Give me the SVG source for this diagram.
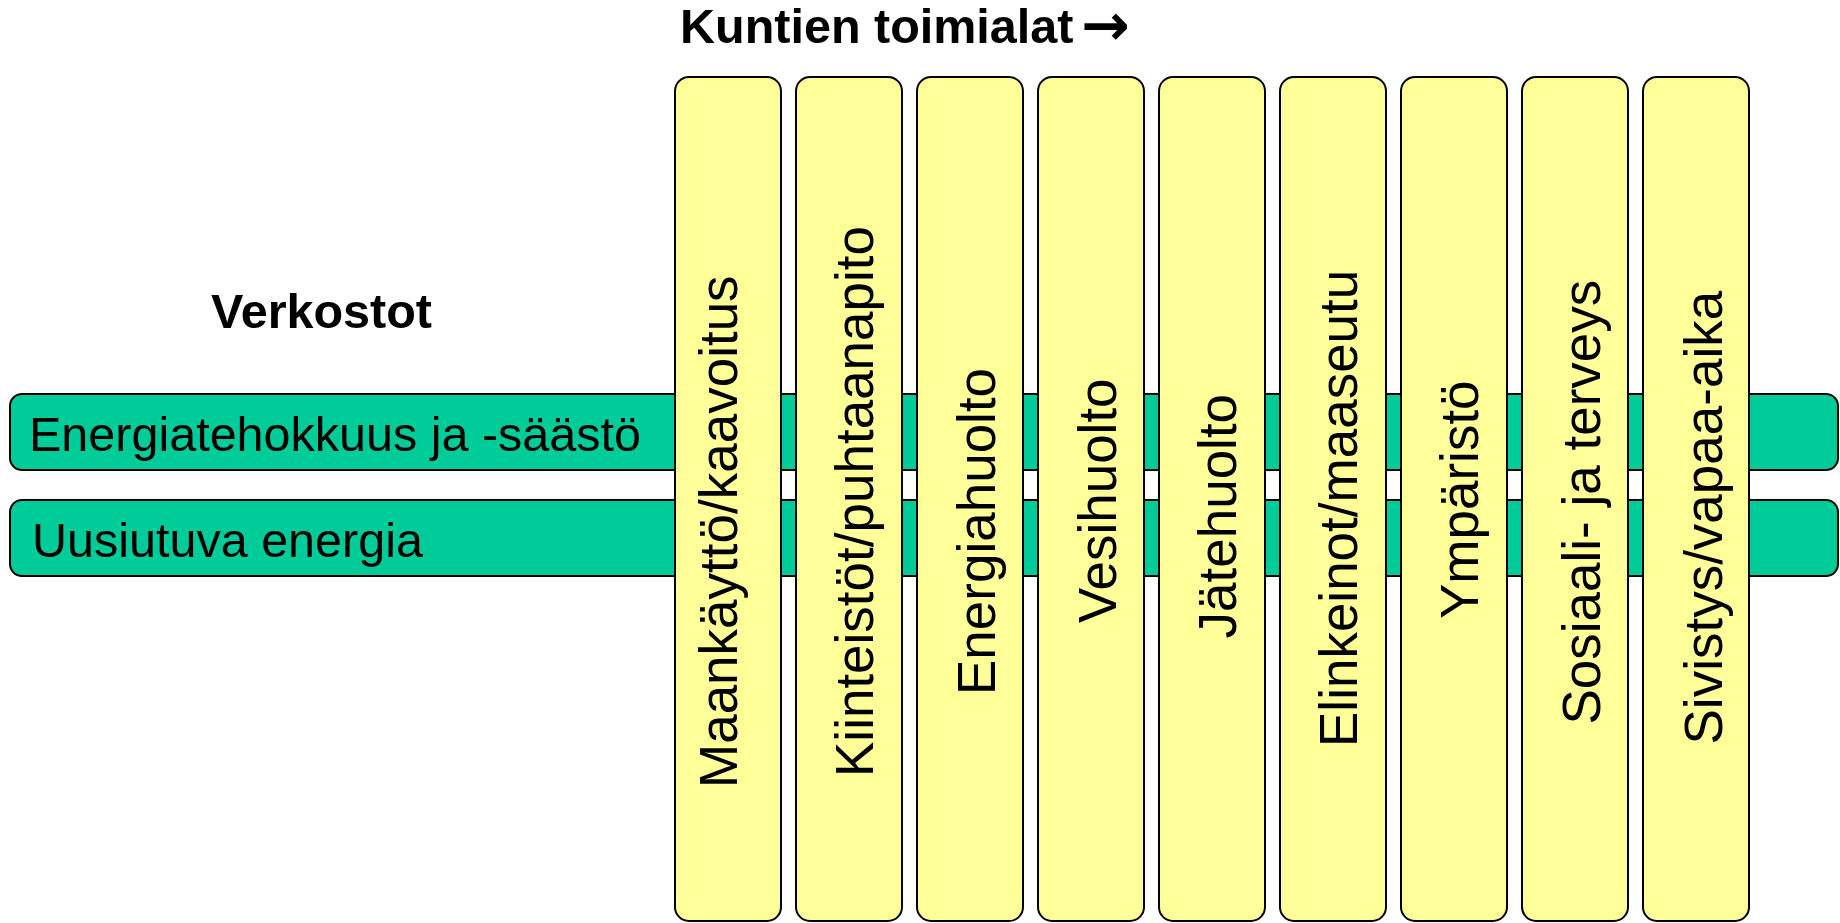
<svg xmlns="http://www.w3.org/2000/svg" width="1840" height="923" viewBox="0 0 1840 923">
<style>
.bar{fill:#00CC99;stroke:#000;stroke-width:2}
.col{fill:#FFFF99;stroke:#000;stroke-width:2}
.h{font-family:"Liberation Sans",Arial,sans-serif;font-size:48.5px;fill:#000}
.b{font-family:"Liberation Sans",Arial,sans-serif;font-size:48.5px;font-weight:bold;fill:#000}
.v{font-family:"Liberation Sans",Arial,sans-serif;font-size:53px;fill:#000}
.arr{font-family:"DejaVu Sans",sans-serif;font-size:58px;font-weight:bold;fill:#000}
</style>
<rect width="1840" height="923" fill="#fff"/>
<g id="title-kuntien"><text class="b" x="680" y="43">Kuntien toimialat</text><text class="arr" x="1081" y="45">→</text></g>
<g id="title-verkostot"><text class="b" x="321.5" y="328" text-anchor="middle">Verkostot</text></g>
<g id="bar-energiatehokkuus"><rect class="bar" x="10" y="394" width="1828" height="76" rx="12"/><text class="h" x="29" y="451">Energiatehokkuus ja -säästö</text></g>
<g id="bar-uusiutuva"><rect class="bar" x="10" y="500" width="1828" height="76" rx="12"/><text class="h" x="32" y="557">Uusiutuva energia</text></g>
<g id="col-maankaytto"><rect class="col" x="675" y="77" width="106" height="844" rx="14"/><text class="v" transform="translate(737,788) rotate(-90)">Maankäyttö/kaavoitus</text></g>
<g id="col-kiinteistot"><rect class="col" x="796" y="77" width="106" height="844" rx="14"/><text class="v" transform="translate(873,777) rotate(-90)">Kiinteistöt/puhtaanapito</text></g>
<g id="col-energiahuolto"><rect class="col" x="917" y="77" width="106" height="844" rx="14"/><text class="v" transform="translate(995,695) rotate(-90)">Energiahuolto</text></g>
<g id="col-vesihuolto"><rect class="col" x="1038" y="77" width="106" height="844" rx="14"/><text class="v" transform="translate(1116,623) rotate(-90)">Vesihuolto</text></g>
<g id="col-jatehuolto"><rect class="col" x="1159" y="77" width="106" height="844" rx="14"/><text class="v" transform="translate(1236,638.5) rotate(-90)">Jätehuolto</text></g>
<g id="col-elinkeinot"><rect class="col" x="1280" y="77" width="106" height="844" rx="14"/><text class="v" transform="translate(1357,747) rotate(-90)">Elinkeinot/maaseutu</text></g>
<g id="col-ymparisto"><rect class="col" x="1401" y="77" width="106" height="844" rx="14"/><text class="v" transform="translate(1478,619) rotate(-90)">Ympäristö</text></g>
<g id="col-sosiaali"><rect class="col" x="1522" y="77" width="106" height="844" rx="14"/><text class="v" transform="translate(1600,724.5) rotate(-90)">Sosiaali- ja terveys</text></g>
<g id="col-sivistys"><rect class="col" x="1643" y="77" width="106" height="844" rx="14"/><text class="v" transform="translate(1722,744.5) rotate(-90)">Sivistys/vapaa-aika</text></g>
</svg>
